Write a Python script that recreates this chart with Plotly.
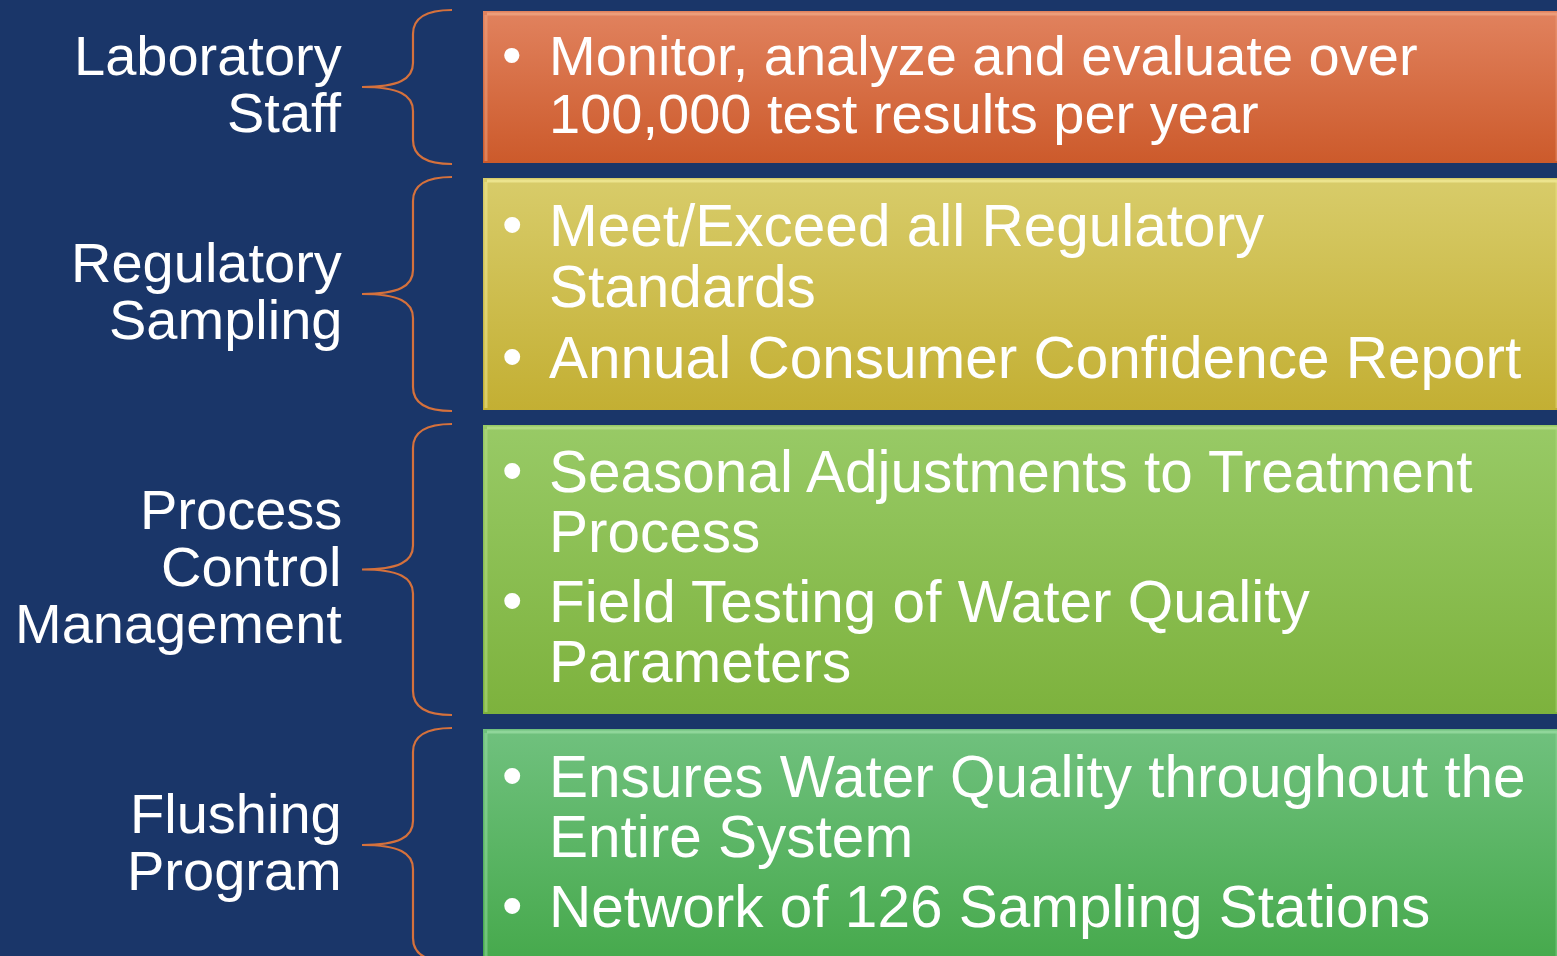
import plotly.graph_objects as go

# ---- data (text content) ----
categories = [
    ["Laboratory", "Staff"],
    ["Regulatory", "Sampling"],
    ["Process", "Control", "Management"],
    ["Flushing", "Program"],
]
bullets_1 = [["Monitor, analyze and evaluate over", "100,000 test results per year"]]
bullets_2 = [["Meet/Exceed all Regulatory", "Standards"],
             ["Annual Consumer Confidence Report"]]
bullets_3 = [["Seasonal Adjustments to Treatment", "Process"],
             ["Field Testing of Water Quality", "Parameters"]]
bullets_4 = [["Ensures Water Quality throughout the", "Entire System"],
             ["Network of 126 Sampling Stations"]]
bullet_groups = [bullets_1, bullets_2, bullets_3, bullets_4]

# ---- layout / style ----
W, H = 1557, 956
BG = "#1A3669"
box_top = [11, 178, 425, 729]
box_bot = [163, 410, 714, 962]
box_x0, box_x1 = 483, 1562
grad = [("#E1825E", "#CC5A2B"), ("#D8CC6A", "#C3AF33"),
        ("#98CA66", "#7DB23D"), ("#70C17E", "#46A94C")]
hi = ["#F0A482", "#F2EA96", "#B8E088", "#98DCA2"]
brace_col = "#D5713C"
FONT = "Arial, Liberation Sans, sans-serif"
FS_LABEL = 56
FS_BOX = [56, 58.5, 58.5, 58.5]
line_h = [58, 61, 60, 60]
para_extra = 10
label_h = 57
text_dy = -3

fig = go.Figure()
shapes = []
annotations = []

for i in range(4):
    y0, y1 = box_top[i], box_bot[i]
    fig.add_trace(go.Scatter(
        x=[box_x0, box_x1, box_x1, box_x0, box_x0],
        y=[y0, y0, y1, y1, y0],
        mode="lines", line=dict(width=0), fill="toself",
        fillgradient=dict(type="vertical", start=y0, stop=y1,
                          colorscale=[[0, grad[i][0]], [1, grad[i][1]]]),
        hoverinfo="skip", showlegend=False))
    # bevel highlights
    shapes.append(dict(type="line", x0=box_x0 + 4, x1=box_x1, y0=y0 + 3, y1=y0 + 3,
                       line=dict(color=hi[i], width=3), opacity=0.8))
    shapes.append(dict(type="line", x0=box_x0 + 3, x1=box_x0 + 3, y0=y0 + 4, y1=y1 - 2,
                       line=dict(color=hi[i], width=3), opacity=0.5))
    shapes.append(dict(type="line", x0=box_x1 - 5, x1=box_x1 - 5, y0=y0 + 4, y1=y1 - 2,
                       line=dict(color=hi[i], width=3), opacity=0.4))

    # brace
    mid = (y0 + y1) / 2
    if i == 3:
        mid = 845
    top = y0 - 1
    bot = 2 * mid - top
    xe, xv, xp = 452, 413, 362
    r = 24
    path = (f"M {xe},{top} C {xv+14},{top} {xv},{top+8} {xv},{top+r} "
            f"L {xv},{mid-r} C {xv},{mid-8} {xv-14},{mid} {xp},{mid} "
            f"M {xp},{mid} C {xv-14},{mid} {xv},{mid+8} {xv},{mid+r} "
            f"L {xv},{bot-r} C {xv},{bot-8} {xv+14},{bot} {xe},{bot}")
    shapes.append(dict(type="path", path=path, xref="x", yref="y",
                       line=dict(color=brace_col, width=2.2)))

    # category label lines
    labs = categories[i]
    n = len(labs)
    for k, t in enumerate(labs):
        yy = mid + (k - (n - 1) / 2) * label_h + text_dy
        annotations.append(dict(x=344, y=yy, text=t, xanchor="right", yanchor="middle",
                                showarrow=False, font=dict(family=FONT, size=FS_LABEL, color="white")))

    # bullet text lines
    groups = bullet_groups[i]
    ys = []
    cur = 0
    for g, para in enumerate(groups):
        if g > 0:
            cur += para_extra
        for k, t in enumerate(para):
            ys.append((cur, t, k == 0))
            cur += line_h[i]
    total = cur - line_h[i]
    bmid = (y0 + min(y1, 960)) / 2
    for off, t, first in ys:
        yy = bmid - total / 2 + off + text_dy
        annotations.append(dict(x=547, y=yy, text=t, xanchor="left", yanchor="middle",
                                showarrow=False, font=dict(family=FONT, size=FS_BOX[i], color="white")))
        if first:
            annotations.append(dict(x=512, y=yy - 1, text="•", xanchor="center", yanchor="middle",
                                    showarrow=False, font=dict(family=FONT, size=FS_BOX[i], color="white")))

fig.update_layout(
    width=W, height=H, margin=dict(l=0, r=0, t=0, b=0),
    paper_bgcolor=BG, plot_bgcolor=BG,
    xaxis=dict(range=[0, W], visible=False, fixedrange=True),
    yaxis=dict(range=[H, 0], visible=False, fixedrange=True),
    shapes=shapes, annotations=annotations, showlegend=False,
)
fig.write_html("out.html", config={"displayModeBar": False},
               post_script="document.body.style.margin='0';document.body.style.overflow='hidden';")
